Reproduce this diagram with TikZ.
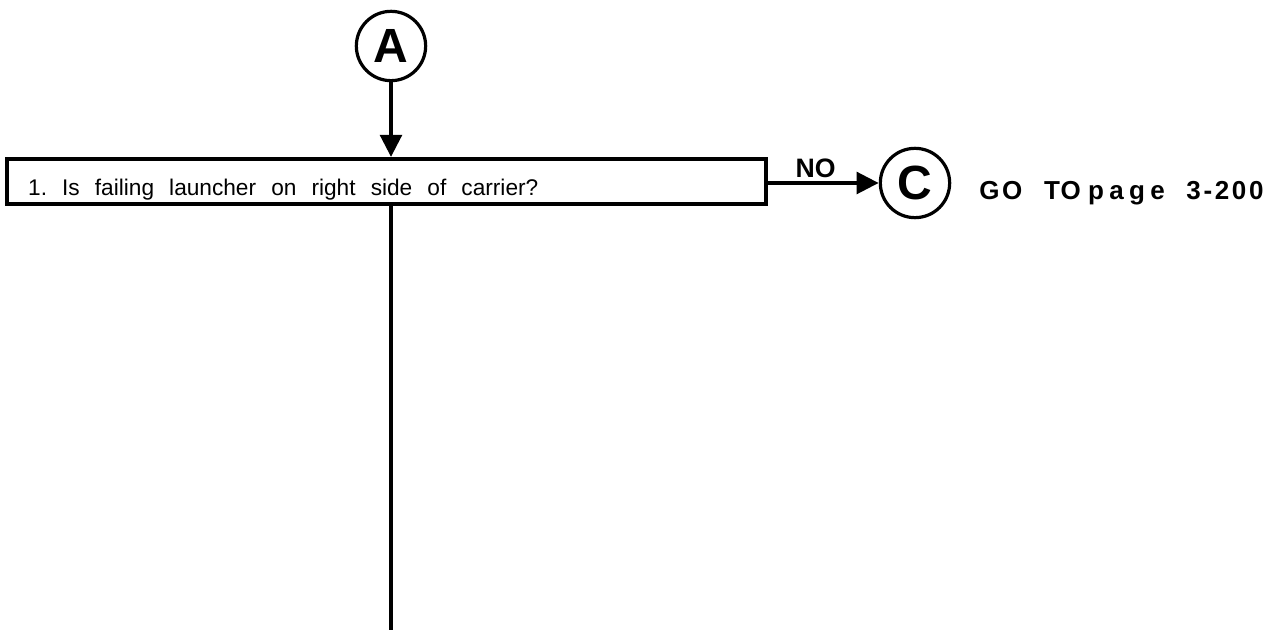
\documentclass[tikz,border=0pt]{standalone}
\usepackage{fontspec}
\setmainfont{Liberation Sans}
\usetikzlibrary{arrows.meta,positioning,calc}

\begin{document}
\begin{tikzpicture}[
    x=0.75pt, y=-0.75pt,
    >={Triangle[length=16.5pt,width=16pt]},
    offpage/.style={draw, circle, line width=2.4pt, minimum size=52pt, inner sep=0pt, font=\fontsize{36}{36}\selectfont\bfseries},
    question/.style={draw, line width=3pt, minimum width=569pt, minimum height=33.75pt, text width=537.5pt, inner xsep=15.75pt, inner ysep=0pt, align=left, text height=20.5pt, text depth=0pt, font=\fontsize{17}{21}\selectfont},
    label/.style={font=\fontsize{19.5}{19.5}\selectfont\bfseries, inner sep=0pt, text depth=0pt},
    flow/.style={line width=3.2pt}
]
\useasboundingbox (0,0) rectangle (1283,630);

\node[offpage] (conA) at (391,46) {A};
\node[question] (q1) at (386.5,181.5) {1.\ \ Is\ \ failing\ \ launcher\ \ on\ \ right\ \ side\ \ of\ \ carrier?};
\node[offpage] (conC) at (915,183) {C};
\node[label, anchor=base west] (goto) at (979,200) {G\kern2pt O\ \ \ T\kern0.5pt O\ p\kern4pt a\kern4pt g\kern4pt e\ \ \ 3\kern2pt -\kern2pt 2\kern2pt 0\kern2pt 0};
\coordinate (qend) at (391,630);

\draw[flow, ->] (conA) -- (conA |- q1.north);
\draw[flow, ->] (q1.east |- conC) -- node[label, font=\fontsize{20}{20}\selectfont\bfseries, pos=0.43, above=2.5pt] (no) {NO} (conC);
\draw[flow] (conA |- q1.south) -- (qend);
\end{tikzpicture}
\end{document}
